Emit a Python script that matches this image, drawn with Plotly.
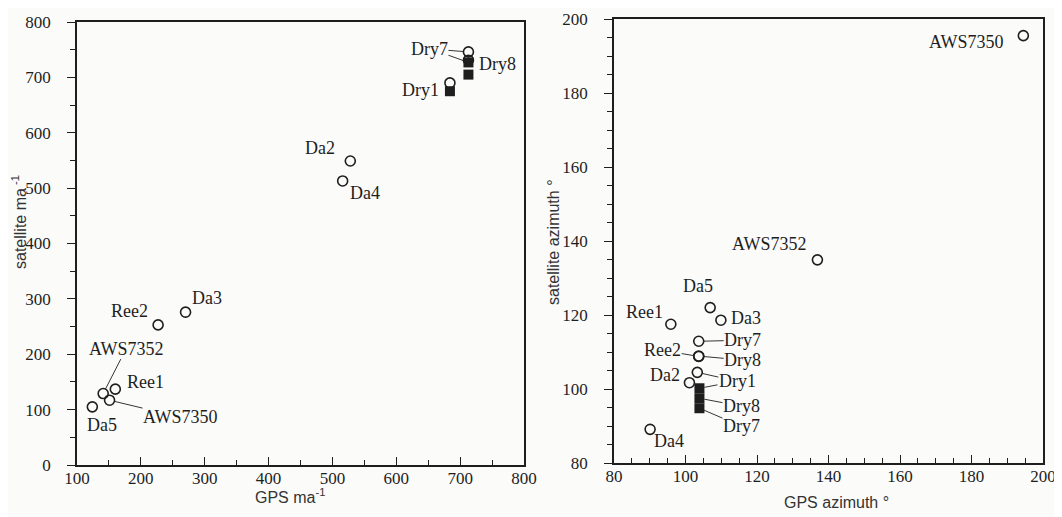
import plotly.graph_objects as go

# ---------------- data ----------------
stations = ["AWS7350", "AWS7352", "Da2", "Da3", "Da4", "Da5", "Ree1", "Ree2", "Dry1", "Dry7", "Dry8"]
gps_ma = [151, 141, 528, 270, 516, 124, 160, 227, 684, 713, 713]
sat_ma = [117, 129, 549, 276, 513, 105, 137, 253, 690, 746, 731]
gps_az = [194.5, 136.9, 101.1, 109.9, 90.1, 106.9, 95.9, 103.7, 103.3, 103.7, 103.7]
sat_az = [195.5, 134.9, 101.7, 118.6, 89.1, 122.0, 117.5, 108.8, 104.5, 112.9, 108.9]

sq_names = ["Dry1", "Dry7", "Dry8"]
sq_gps_ma = [684, 713, 713]
sq_sat_ma = [675, 727, 705]
sq_gps_az = [103.9, 103.9, 103.9]
sq_sat_az = [100.2, 94.8, 97.5]

left_ticks = [100, 200, 300, 400, 500, 600, 700, 800]
left_yticks = [0, 100, 200, 300, 400, 500, 600, 700, 800]
right_ticks = [80, 100, 120, 140, 160, 180, 200]

# ---------------- label styling (pixel offsets of the text from its point) ----
# (dx, dy, draw_line, visible_text)
left_circ_lbl = {
    "AWS7350": (71, 17, True, True), "AWS7352": (23, -45, True, True),
    "Da2": (-30, -13, False, True), "Da3": (21, -14, False, True),
    "Da4": (22, 12, False, True), "Da5": (10, 18, False, True),
    "Ree1": (30, -7, False, True), "Ree2": (-29, -14, False, True),
    "Dry1": (-29, 7, False, True), "Dry7": (-39, -3, True, True),
}
left_sq_lbl = {
    "Dry7": (-39, -14, True, False), "Dry8": (29, -11, False, True),
}
right_circ_lbl = {
    "AWS7350": (-57, 6, False, True), "AWS7352": (-48, -16, False, True),
    "Da5": (-12, -22, False, True), "Da3": (25, -2, False, True),
    "Ree1": (-26, -12, False, True), "Dry7": (44, -1, True, True),
    "Ree2": (-36, -6, True, True), "Dry8": (44, 4, True, True),
    "Da2": (-24, -8, False, True), "Dry1": (40, 9, True, True),
    "Da4": (19, 12, False, True),
}
right_sq_lbl = {
    "Dry1": (37, -7, True, False), "Dry8": (42, 8, True, True),
    "Dry7": (42, 18, True, True),
}

INK = "#1e1e1e"
SERIF = "Liberation Serif"
SANS = "Liberation Sans"

# page is 1062x517 but the html body adds an 8px margin
OFF = 8
W, H = 1062 - OFF, 517 - OFF


def px(p):      # page x -> paper x
    return (p - OFF) / W


def py(p):      # page y -> paper y
    return 1 - (p - OFF) / H


fig = go.Figure()

circle_marker = dict(symbol="circle-open", size=10, color=INK, line=dict(width=1.6, color=INK))
square_marker = dict(symbol="square", size=10, color=INK, line=dict(width=0))

fig.add_trace(go.Scatter(x=gps_ma, y=sat_ma, mode="markers", marker=circle_marker,
                         xaxis="x", yaxis="y", showlegend=False))
fig.add_trace(go.Scatter(x=sq_gps_ma, y=sq_sat_ma, mode="markers", marker=square_marker,
                         xaxis="x", yaxis="y", showlegend=False))
fig.add_trace(go.Scatter(x=gps_az, y=sat_az, mode="markers", marker=circle_marker,
                         xaxis="x2", yaxis="y2", showlegend=False))
fig.add_trace(go.Scatter(x=sq_gps_az, y=sq_sat_az, mode="markers", marker=square_marker,
                         xaxis="x2", yaxis="y2", showlegend=False))

annotations = []


def add_labels(names, xs, ys, styles, xref, yref):
    for n, xv, yv in zip(names, xs, ys):
        if n not in styles:
            continue
        dx, dy, line, vis = styles[n]
        annotations.append(dict(
            x=xv, y=yv, xref=xref, yref=yref, text=n,
            showarrow=True, arrowhead=0, arrowwidth=0.9,
            arrowcolor=INK if line else "rgba(0,0,0,0)",
            ax=dx, ay=dy, standoff=5, startstandoff=0,
            font=dict(family=SERIF, size=18, color=INK if vis else "rgba(0,0,0,0)"),
            borderpad=0,
        ))


add_labels(stations, gps_ma, sat_ma, left_circ_lbl, "x", "y")
add_labels(sq_names, sq_gps_ma, sq_sat_ma, left_sq_lbl, "x", "y")
add_labels(stations, gps_az, sat_az, right_circ_lbl, "x2", "y2")
add_labels(sq_names, sq_gps_az, sq_sat_az, right_sq_lbl, "x2", "y2")

# axis titles
title_font = dict(family=SANS, size=16, color="#333")
annotations += [
    dict(text="GPS ma<sup>-1</sup>", x=px(290), y=py(496), xref="paper", yref="paper",
         showarrow=False, font=title_font, xanchor="center", yanchor="middle"),
    dict(text="satellite ma<sup> -1</sup>", x=px(19), y=py(222), xref="paper", yref="paper",
         showarrow=False, font=title_font, textangle=-90, xanchor="center", yanchor="middle"),
    dict(text="GPS azimuth °", x=px(836), y=py(502), xref="paper", yref="paper",
         showarrow=False, font=title_font, xanchor="center", yanchor="middle"),
    dict(text="satellite azimuth °", x=px(554), y=py(242), xref="paper", yref="paper",
         showarrow=False, font=title_font, textangle=-90, xanchor="center", yanchor="middle"),
]

tickfont = dict(family=SERIF, size=17, color=INK)

xcommon = dict(showline=True, linecolor=INK, linewidth=1.5, mirror=True, showgrid=False,
               zeroline=False, ticks="inside", ticklen=8, tickwidth=1.3, tickcolor=INK,
               tickfont=tickfont, ticklabelstandoff=-3, automargin=False,
               ticklabeloverflow="allow",
               minor=dict(ticks="inside", ticklen=5, tickwidth=1.2, tickcolor=INK, showgrid=False))
ycommon = dict(showline=True, linecolor=INK, linewidth=1.5, mirror=True, showgrid=False,
               zeroline=False, ticks="outside", ticklen=8, tickwidth=1.3, tickcolor=INK,
               tickfont=tickfont, ticklabelstandoff=13, automargin=False,
               minor=dict(ticks="outside", ticklen=5, tickwidth=1.2, tickcolor=INK, showgrid=False))

fig.update_layout(
    template="none",
    width=W, height=H,
    margin=dict(l=0, r=0, t=0, b=0, autoexpand=False),
    paper_bgcolor="#fbfbfa", plot_bgcolor="#fbfbfa",
    xaxis=dict(domain=[px(77), px(524)], range=[100, 800], tickvals=left_ticks,
               anchor="y", **{**xcommon, "minor": {**xcommon["minor"], "dtick": 50, "tick0": 0}}),
    yaxis=dict(domain=[py(465), py(22)], range=[0, 800], tickvals=left_yticks,
               anchor="x", **{**ycommon, "minor": {**ycommon["minor"], "dtick": 50, "tick0": 0}}),
    xaxis2=dict(domain=[px(614), px(1043)], range=[80, 200], tickvals=right_ticks,
                anchor="y2", **{**xcommon, "minor": {**xcommon["minor"], "dtick": 5, "tick0": 0}}),
    yaxis2=dict(domain=[py(463), py(19)], range=[80, 200], tickvals=right_ticks,
                anchor="x2", **{**ycommon, "minor": {**ycommon["minor"], "dtick": 5, "tick0": 0}}),
    annotations=annotations,
)

fig.write_html("out.html")
